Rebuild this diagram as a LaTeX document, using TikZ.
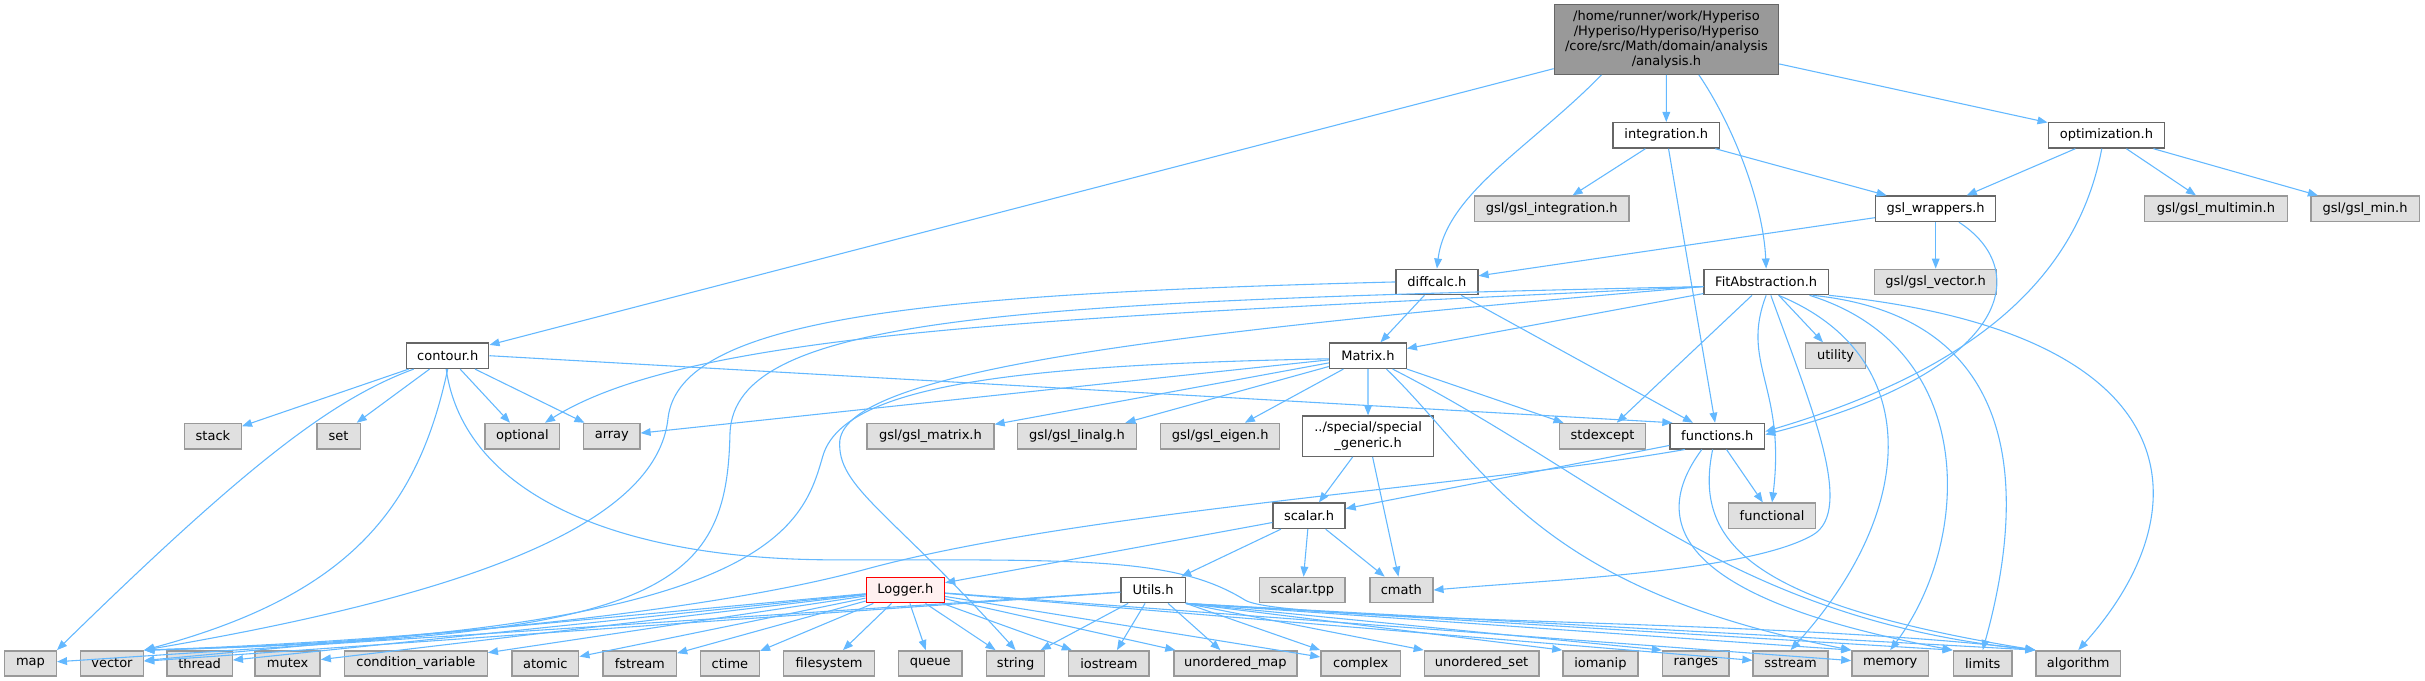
\documentclass[tikz,border=0pt]{standalone}
\usepackage{fontspec}
\setmainfont{DejaVu Sans}
\usetikzlibrary{arrows.meta}
\definecolor{edgeblue}{HTML}{63B8FF}
\definecolor{sysfill}{HTML}{E0E0E0}
\definecolor{sysline}{HTML}{999999}
\definecolor{hdrline}{HTML}{666666}
\definecolor{curfill}{HTML}{999999}
\definecolor{warnfill}{HTML}{FFF0F0}
\tikzset{
  box/.style={draw,line width=0.9pt,inner sep=0pt,minimum height=16.4pt,font=\fontsize{8.4}{9.9}\selectfont},
  sys/.style={box,draw=sysline,fill=sysfill},
  hdr/.style={box,draw=hdrline,fill=white},
  cur/.style={box,draw=hdrline,fill=curfill,align=center},
  warn/.style={box,draw=red,fill=warnfill},
  dep/.style={edgeblue,line width=0.7pt,-{Triangle[length=6.5pt,width=5pt]}}
}
\begin{document}
\begin{tikzpicture}[x=1pt,y=-1pt]
\useasboundingbox (0,0) rectangle (1568,440);
\node[cur,minimum width=145pt,minimum height=45pt] (root) at (1077.5,25.5) {/home/runner/work/Hyperiso\\/Hyperiso/Hyperiso/Hyperiso\\/core/src/Math/domain/analysis\\/analysis.h};
\node[hdr,minimum width=68.7pt] (integ) at (1077.4,87.5) {integration.h};
\node[hdr,minimum width=75.2pt] (optim) at (1362,87.5) {optimization.h};
\node[sys,minimum width=99.8pt] (gslint) at (1003.3,135) {gsl/gsl\_integration.h};
\node[hdr,minimum width=77.6pt] (wrappers) at (1251.6,135) {gsl\_wrappers.h};
\node[sys,minimum width=92.3pt] (multimin) at (1432.8,135) {gsl/gsl\_multimin.h};
\node[sys,minimum width=70.1pt] (gslmin) at (1529.2,135) {gsl/gsl\_min.h};
\node[hdr,minimum width=53pt] (diffcalc) at (929.1,182.3) {diffcalc.h};
\node[hdr,minimum width=80.3pt] (fit) at (1142,182.3) {FitAbstraction.h};
\node[sys,minimum width=78.9pt] (gslvec) at (1251.6,182.3) {gsl/gsl\_vector.h};
\node[hdr,minimum width=53.1pt] (contour) at (289.5,230) {contour.h};
\node[hdr,minimum width=49.5pt] (matrix) at (884.5,230) {Matrix.h};
\node[sys,minimum width=38.8pt] (utility) at (1186.9,230) {utility};
\node[sys,minimum width=36.6pt] (stack) at (137.7,282) {stack};
\node[sys,minimum width=28pt] (set) at (218.9,282) {set};
\node[sys,minimum width=48.2pt] (optional) at (337.8,282) {optional};
\node[sys,minimum width=36.3pt] (array) at (395.6,282) {array};
\node[sys,minimum width=82.1pt] (gslmatrix) at (601.6,282) {gsl/gsl\_matrix.h};
\node[sys,minimum width=77.2pt] (linalg) at (696.4,282) {gsl/gsl\_linalg.h};
\node[sys,minimum width=76.9pt] (eigen) at (789,282) {gsl/gsl\_eigen.h};
\node[hdr,align=center,minimum width=84.8pt,minimum height=26pt] (special) at (884.6,282) {../special/special\\\_generic.h};
\node[sys,minimum width=55.9pt] (stdexcept) at (1036.2,282) {stdexcept};
\node[hdr,minimum width=61.2pt] (functions) at (1110.4,282) {functions.h};
\node[hdr,minimum width=46.5pt] (scalar) at (846.4,333.5) {scalar.h};
\node[sys,minimum width=56.4pt] (functional) at (1145.8,333.5) {functional};
\node[warn,minimum width=50.5pt] (logger) at (585.4,381.5) {Logger.h};
\node[hdr,minimum width=41.5pt] (utils) at (745.6,381.5) {Utils.h};
\node[sys,minimum width=55.1pt] (tpp) at (842.1,381.5) {scalar.tpp};
\node[sys,minimum width=40.7pt] (cmath) at (906.1,381.5) {cmath};
\foreach \nm/\px/\bw/\lbl in {map/19.7/33.4/map,vector/72.4/40.8/vector,thread/129.1/42.1/thread,mutex/186/42/mutex,cv/268.9/92.3/condition\_variable,atomic/352.6/43.2/atomic,fstream/413.7/47.4/fstream,ctime/472/38/ctime,filesystem/536.1/58.9/filesystem,queue/601.5/41/queue,string/656.7/37.6/string,iostream/717/52/iostream,umap/798.8/79.6/unordered\_map,complex/879.8/51.5/complex,uset/958/74/unordered\_set,iomanip/1034.8/48.4/iomanip,ranges/1096.5/43/ranges,sstream/1157.8/48.5/sstream,memory/1222.2/49.5/memory,limits/1282/38/limits,algorithm/1343.8/54.5/algorithm}
  \node[sys,minimum width=\bw pt] (\nm) at (\px,429) {\lbl};
\foreach \src/\dst in {root/integ,root/optim,root/contour,integ/gslint,integ/wrappers,integ/functions,optim/wrappers,optim/multimin,optim/gslmin,wrappers/diffcalc,wrappers/gslvec,diffcalc/matrix,diffcalc/functions,fit/matrix,fit/stdexcept,fit/utility,contour/stack,contour/set,contour/optional,contour/array,matrix/gslmatrix,matrix/linalg,matrix/eigen,matrix/special,matrix/stdexcept,matrix/array,special/scalar,special/cmath,functions/scalar,functions/functional,scalar/logger,scalar/utils,scalar/tpp,scalar/cmath}
  \draw[dep] (\src) -- (\dst);
\foreach \dst in {vector,thread,mutex,cv,atomic,fstream,ctime,filesystem,queue,string,iostream,umap,complex,sstream,memory}
  \draw[dep] (logger) -- (\dst);
\foreach \dst in {map,vector,string,iostream,umap}
  \draw[dep] (utils) -- (\dst);
\foreach \dst in {complex,uset,iomanip,ranges,memory,limits,algorithm}
  \draw[dep] (utils.south east) -- (\dst.north west);
\draw[dep] (contour.east) -- ([xshift=2pt]functions.north west);
\draw[dep] ([xshift=-42pt]root.south) .. controls (990,95) and (935,125) .. (diffcalc.north);
\draw[dep] ([xshift=21pt]root.south) .. controls (1120,80) and (1140,130) .. (fit.north);
\draw[dep] ([xshift=-3pt]optim.south) .. controls (1345,170) and (1290,235) .. ([yshift=3pt]functions.east);
\draw[dep] ([xshift=15pt]wrappers.south) .. controls (1315,175) and (1300,240) .. ([yshift=1pt]functions.east);
\draw[dep] (diffcalc.west) .. controls (600,190) and (440,205) .. (432,270) .. controls (425,340) and (300,385) .. (vector.north east);
\draw[dep] ([yshift=-3pt]fit.west) .. controls (650,195) and (475,205) .. (472,280) .. controls (470,380) and (430,412) .. (vector.north east);
\draw[dep] ([yshift=-3pt]fit.west) .. controls (700,205) and (450,212) .. ([xshift=-10pt]optional.north east);
\draw[dep] ([yshift=-3pt]fit.west) .. controls (750,215) and (548,240) .. (543,285) .. controls (541,315) and (575,330) .. (string.north);
\draw[dep] ([yshift=-2pt]matrix.west) .. controls (650,236) and (545,250) .. (532,295) .. controls (519,340) and (500,410) .. (vector.north east);
\draw[dep] ([xshift=12pt]matrix.south) .. controls (960,300) and (990,380) .. (memory.north west);
\draw[dep] ([xshift=16pt]matrix.south) .. controls (1040,310) and (1120,400) .. (algorithm.north west);
\draw[dep] ([xshift=-21pt]functions.south) .. controls (950,315) and (700,330) .. (560,368) .. controls (450,398) and (250,415) .. (vector.north east);
\draw[dep] ([xshift=-10pt]functions.south) .. controls (1060,345) and (1100,390) .. (limits.north west);
\draw[dep] ([xshift=-3pt]functions.south) .. controls (1095,350) and (1130,390) .. (algorithm.north west);
\draw[dep] (fit.south) .. controls (1125,235) and (1155,250) .. (functional.north);
\draw[dep] ([xshift=3pt]fit.south) .. controls (1170,260) and (1200,330) .. (1172,346) .. controls (1130,370) and (1000,375) .. (cmath.east);
\draw[dep] ([xshift=8pt]fit.south) .. controls (1245,230) and (1240,330) .. (sstream.north);
\draw[dep] ([xshift=28pt]fit.south) .. controls (1280,225) and (1275,350) .. (memory.north);
\draw[dep] ([xshift=30pt]fit.south) .. controls (1310,205) and (1310,320) .. (limits.north);
\draw[dep] (fit.south east) .. controls (1420,215) and (1425,330) .. (algorithm.north);
\draw[dep] ([xshift=-22pt]contour.south) .. controls (215,258) and (160,300) .. (map.north east);
\draw[dep] (contour.south) .. controls (270,330) and (225,385) .. (vector.north east);
\draw[dep] ([xshift=-1pt]contour.south) .. controls (300,320) and (400,362) .. (540,362) .. controls (700,362) and (760,360) .. (805,388) .. controls (830,403) and (1150,400) .. (algorithm.north west);
\end{tikzpicture}
\end{document}
